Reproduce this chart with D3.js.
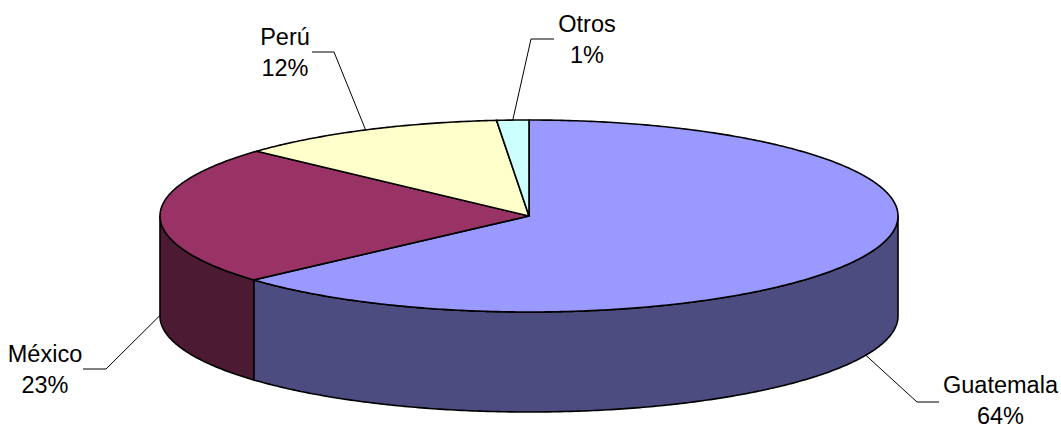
<!DOCTYPE html>
<html>
<head>
<meta charset="utf-8">
<script src="https://cdn.jsdelivr.net/npm/d3@7"></script>
<style>html,body{margin:0;padding:0;background:#fff}svg{display:block}</style>
</head>
<body>
<svg id="c" width="1061" height="426"></svg>
<script>
const categories = ["Guatemala","México","Perú","Otros"];
const shares = [63.4,23.4,11.8,1.4];
const pctLabels = ["64%","23%","12%","1%"];
const topColors = ["#9999FF","#993366","#FFFFCC","#CCFFFF"];
const sideColors = ["#4C4C80","#4D1A33","#808066","#668080"];
// label layout: text centre x, first baseline y, elbow x/y, end of horizontal x
const labelX = [1000.5,45,285,587];
const labelY = [393,362,45,32];
const elbowX = [917,106,334,531];
const elbowY = [402,369,52,39];
const tailX = [939,83,312,554];

const svg = d3.select("#c");
const sx = d3.scaleLinear().domain([-1,1]).range([160,898]);
const sy = d3.scaleLinear().domain([-1,1]).range([120,312]);
const depth = 100;
const pie = d3.pie().sort(null).value(d=>d)(shares);
const px = a => sx(Math.sin(a));
const py = a => sy(-Math.cos(a));
const line = d3.line();
const arcPts = (a0,a1) => {
  const n = Math.max(2,Math.ceil((a1-a0)/0.01));
  return d3.range(n+1).map(i=>{const a=a0+(a1-a0)*i/n;return [px(a),py(a)];});
};
const HALF = Math.PI/2, FRONT_END = 3*Math.PI/2;

// side walls (front half only)
pie.forEach((s,i)=>{
  const a0=Math.max(s.startAngle,HALF), a1=Math.min(s.endAngle,FRONT_END);
  if(a1<=a0) return;
  const upper=arcPts(a0,a1);
  const lower=upper.map(p=>[p[0],p[1]+depth]).reverse();
  svg.append("path").attr("d",line(upper.concat(lower))+"Z")
    .attr("fill",sideColors[i]).attr("stroke","#000").attr("stroke-width",1.6).attr("stroke-linejoin","round");
});
// top faces
pie.forEach((s,i)=>{
  const pts=[[sx(0),sy(0)]].concat(arcPts(s.startAngle,s.endAngle));
  svg.append("path").attr("d",line(pts)+"Z")
    .attr("fill",topColors[i]).attr("stroke","#000").attr("stroke-width",1.6).attr("stroke-linejoin","round");
});
// leaders and labels
pie.forEach((s,i)=>{
  const a=(s.startAngle+s.endAngle)/2;
  const front=a>HALF&&a<FRONT_END+0.1;
  const ax=px(a), ay=py(a)+(front?depth:0);
  svg.append("path").attr("d",line([[ax,ay],[elbowX[i],elbowY[i]],[tailX[i],elbowY[i]]]))
    .attr("fill","none").attr("stroke","#000").attr("stroke-width",1);
  const t=svg.append("text").attr("text-anchor","middle")
    .attr("font-family","'Liberation Sans',Arial,sans-serif").attr("font-size",23.5).attr("fill","#000");
  t.append("tspan").attr("x",labelX[i]).attr("y",labelY[i]).text(categories[i]);
  t.append("tspan").attr("x",labelX[i]).attr("y",labelY[i]+31).text(pctLabels[i]);
});
</script>
</body>
</html>
